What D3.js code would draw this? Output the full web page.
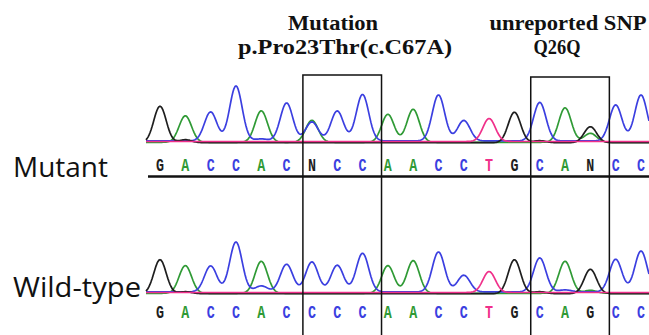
<!DOCTYPE html>
<html>
<head>
<meta charset="utf-8">
<script src="https://cdn.jsdelivr.net/npm/d3@7"></script>
<style>
  body { margin: 0; background: #fff; }
  svg { display: block; }
</style>
</head>
<body>
<svg id="chart" width="649" height="335"></svg>
<script>
// base calls
var mutantBases = "GACCACNCCAACCTGCANCC".split("");
var wildBases   = "GACCACCCCAACCTGCAGCC".split("");

// peak heights per base (px above the trace baseline)
var mutantA = [0, 26.5, 0, 0, 31.5, 0, 22, 0, 0, 28, 33, 0, 0, 0, 0, 0, 34.5, 9, 0, 0];
var mutantC = [0, 0, 29, 55, 2, 38, 19, 30, 46.5, 0, 0, 46, 20.5, 0, 0, 38.5, 0, 0, 36, 46];
var mutantG = [36.5, 3, 0, 0, 0, 0, 0, 0, 0, 0, 0, 0, 0, 0, 30.5, 2, 0, 16, 0, 0];
var mutantT = [0, 0, 0, 0, 0, 0, 0, 0, 0, 0, 0, 0, 0, 23, 0, 0, 0, 0, 0, 0];

var wildA = [0, 27.7, 0, 0, 32, 0, 0, 0, 0, 27.7, 32.7, 0, 0, 0, 0, 0, 32, 3, 0, 0];
var wildC = [0, 0, 26, 50, 6, 27.7, 30, 26.7, 38.7, 0, 0, 40, 16.7, 0, 0, 34, 2, 0, 32.7, 41];
var wildG = [34, 2, 0, 0, 0, 0, 0, 0, 0, 0, 0, 0, 0, 0, 34, 2, 0, 24.4, 0, 0];
var wildT = [0, 0, 0, 0, 0, 0, 0, 0, 0, 0, 0, 0, 0, 21, 0, 0, 0, 0, 0, 0];

// boxed regions (first and last base index)
var boxes = [[6, 8], [15, 17]];

var titles = [
  { lines: ["Mutation", "p.Pro23Thr(c.C67A)"], cx: [333, 345], len: [90, 214] },
  { lines: ["unreported SNP", "Q26Q"], cx: [568, 557], len: [157, 47] }
];

var colors = { A: "#2f9a35", C: "#3b3fe0", G: "#1e1e1e", T: "#f0308a", N: "#1e1e1e" };

var svg = d3.select("#chart");

var x = d3.scaleLinear().domain([0, mutantBases.length - 1]).range([160, 641]);

var rows = [
  { name: "Mutant", bases: mutantBases, peaks: { A: mutantA, C: mutantC, G: mutantG, T: mutantT },
    base: 141.5, letterY: 171, labelY: 177, labelLen: 95, underline: 176.5 },
  { name: "Wild-type", bases: wildBases, peaks: { A: wildA, C: wildC, G: wildG, T: wildT },
    base: 292.5, letterY: 318, labelY: 297, labelLen: 128, underline: null }
];

var sigma = 6.2;
var xs = d3.range(146, 650, 1);

rows.forEach(function(r)
{
  var y = d3.scaleLinear().domain([0, 60]).range([r.base, r.base - 60]);

  // traces
  ["A", "C", "G", "T"].forEach(function(ch, k)
  {
    var h = r.peaks[ch];
    var pts = xs.map(function(px)
    {
      var v = 0;
      h.forEach(function(hv, i)
      {
        if (hv > 0) {
          var d = px - x(i);
          v += hv * Math.exp(-d * d / (2 * sigma * sigma));
        }
      });
      return [px, v];
    });
    var off = [0.8, -0.6, 1.2, 0][k];
    svg.append("path")
      .attr("d", d3.line().x(function(d) { return d[0]; }).y(function(d) { return y(d[1]) + off; })(pts))
      .attr("fill", "none")
      .attr("stroke", colors[ch])
      .attr("stroke-width", 1.7)
      .attr("stroke-linejoin", "round");
  });

  // base letters
  svg.selectAll(null)
    .data(r.bases)
    .enter().append("text")
    .attr("x", function(d, i) { return x(i); })
    .attr("y", r.letterY)
    .attr("text-anchor", "middle")
    .attr("font-family", "Liberation Mono")
    .attr("font-weight", "bold")
    .attr("font-size", 19)
    .attr("textLength", 8)
    .attr("lengthAdjust", "spacingAndGlyphs")
    .attr("fill", function(d) { return colors[d]; })
    .text(function(d) { return d; });

  if (r.underline) {
    svg.append("line")
      .attr("x1", 148).attr("x2", 649)
      .attr("y1", r.underline).attr("y2", r.underline)
      .attr("stroke", "#111").attr("stroke-width", 2.5);
  }

  svg.append("text")
    .attr("x", 13)
    .attr("y", r.labelY)
    .attr("font-family", "Open Sans")
    .attr("font-size", 27)
    .attr("textLength", r.labelLen)
    .attr("lengthAdjust", "spacingAndGlyphs")
    .attr("fill", "#111")
    .text(r.name);
});

// boxes round the changed codons
boxes.forEach(function(b, i)
{
  var top = [75, 77][i];
  svg.append("rect")
    .attr("x", x(b[0]) - 9)
    .attr("y", top)
    .attr("width", x(b[1]) + 19 - (x(b[0]) - 9))
    .attr("height", 340 - top)
    .attr("fill", "none")
    .attr("stroke", "#111")
    .attr("stroke-width", 1.5);
});

// titles
titles.forEach(function(t)
{
  t.lines.forEach(function(line, j)
  {
    svg.append("text")
      .attr("x", t.cx[j])
      .attr("y", [30, 54][j])
      .attr("text-anchor", "middle")
      .attr("font-family", "Liberation Serif")
      .attr("font-weight", "bold")
      .attr("font-size", 20)
      .attr("textLength", t.len[j])
      .attr("lengthAdjust", "spacingAndGlyphs")
      .attr("fill", "#111")
      .text(line);
  });
});
</script>
</body>
</html>
